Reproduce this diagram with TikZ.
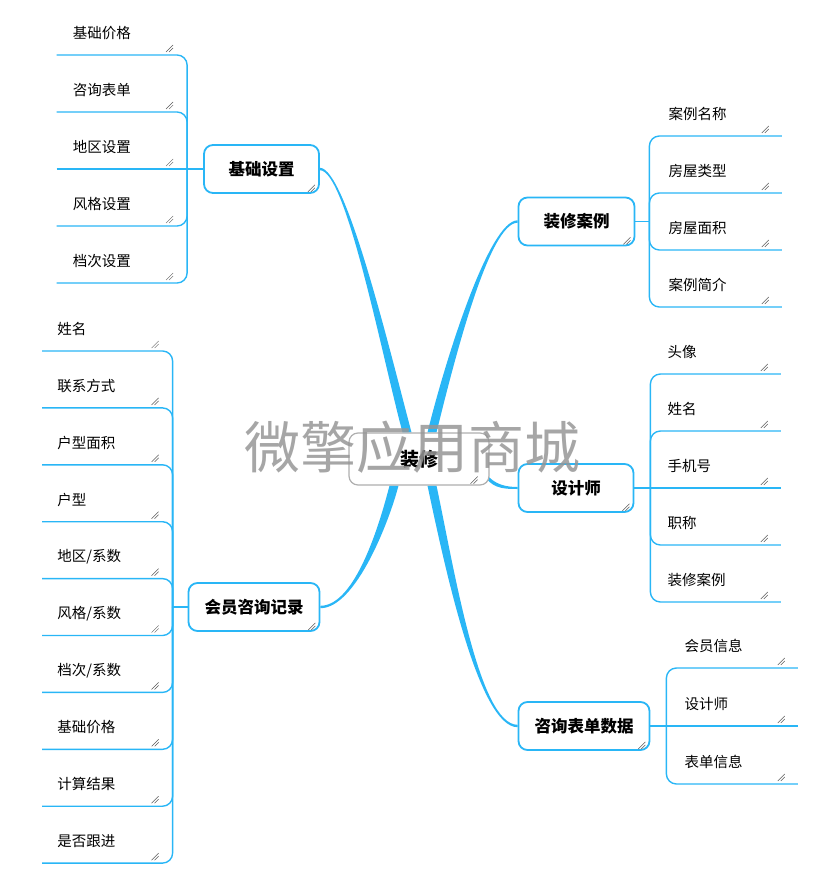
\documentclass[tikz,border=0pt]{standalone}
\usepackage{fontspec}
\newfontfamily\cjk{Noto Sans CJK SC}
\usetikzlibrary{calc,backgrounds}
\definecolor{mblue}{RGB}{41,182,246}
\definecolor{rootgray}{RGB}{175,175,175}
\definecolor{wmgray}{RGB}{150,150,150}
\newcommand\taperfill[6]{%
  \fill[mblue] ($(#1)+(#5)$) .. controls ($(#2)+(#5)$) and ($(#3)+(#6)$) .. ($(#4)+(#6)$)
     -- ($(#4)-(#6)$) .. controls ($(#3)-(#6)$) and ($(#2)-(#5)$) .. ($(#1)-(#5)$) -- cycle;}
\tikzset{
  rootbox/.style={draw=rootgray, line width=1.2pt, fill=white, rounded corners=9pt,
    minimum width=140pt, minimum height=52pt, font=\cjk\bfseries\fontsize{19}{22}\selectfont},
  branchbox/.style={draw=mblue, line width=1.8pt, fill=white, rounded corners=9pt,
    minimum height=48pt, font=\cjk\bfseries\fontsize{16.5}{20}\selectfont},
  leaf/.style={inner ysep=0pt, minimum height=44pt, align=left,
    font=\cjk\fontsize{14.5}{17}\selectfont},
  leafL/.style={leaf, anchor=south east, inner xsep=#1},
  leafR/.style={leaf, anchor=south west, inner xsep=#1},
  lk/.style={draw=mblue, line width=1.4pt, rounded corners=10pt},
  gripc/.style={draw=black!65, line width=0.5pt},
  gripmark/.pic={\draw[gripc] (-4,3) -- (3,-4); \draw[gripc] (-1,3) -- (3,-1);}
}
\begin{document}
\begin{tikzpicture}[x=1pt,y=-1pt]
\useasboundingbox (0,0) rectangle (824,894);

% main nodes
\node[rootbox] (root) at (419,459) {\raisebox{-2pt}{装修}};
\node[branchbox, minimum width=115pt] (jc) at (261.5,169) {\raisebox{-2pt}{基础设置}};
\node[branchbox, minimum width=131pt] (hy) at (254,607) {\raisebox{-2pt}{会员咨询记录}};
\node[branchbox, minimum width=116pt] (zx) at (576.5,221.5) {\raisebox{-2pt}{装修案例}};
\node[branchbox, minimum width=115pt] (sjs) at (576,488) {\raisebox{-2pt}{设计师}};
\node[branchbox, minimum width=131pt] (zxb) at (584,726) {\raisebox{-2pt}{咨询表单数据}};

% junctions
\coordinate (jj) at ($(jc.west)+(-16,0)$);
\coordinate (hj) at ($(hy.west)+(-15,0)$);
\coordinate (zj) at ($(zx.east)+(14,0)$);
\coordinate (sj) at ($(sjs.east)+(16,0)$);
\coordinate (xj) at ($(zxb.east)+(16,0)$);

% 基础设置 leaves
\foreach \t [count=\i] in {基础价格,咨询表单,地区设置,风格设置,档次设置}{
  \node[leafL=16pt, text width=98pt] (a\i) at ($(jj)+(0,{55+57*(\i-1)-169})$) {\t};
  \pic at ($(a\i.south east)+(-17,-6)$) {gripmark};
}
% 会员咨询记录 leaves
\foreach \t [count=\i] in {姓名,联系方式,户型面积,户型,地区/系数,风格/系数,档次/系数,基础价格,计算结果,是否跟进}{
  \node[leafL=15pt, text width=100pt] (h\i) at ($(hj)+(0,{351+56.9*(\i-1)-607})$) {\t};
  \pic at ($(h\i.south east)+(-17,-6)$) {gripmark};
}
% 装修案例 leaves
\foreach \t [count=\i] in {案例名称,房屋类型,房屋面积,案例简介}{
  \node[leafR=19pt, text width=94pt] (b\i) at ($(zj)+(0,{136+57*(\i-1)-221.5})$) {\t};
  \pic at ($(b\i.south east)+(-16,-6)$) {gripmark};
}
% 设计师 leaves
\foreach \t [count=\i] in {头像,姓名,手机号,职称,装修案例}{
  \node[leafR=17pt, text width=96pt] (c\i) at ($(sj)+(0,{374+57*(\i-1)-488})$) {\t};
  \pic at ($(c\i.south east)+(-16,-6)$) {gripmark};
}
% 咨询表单数据 leaves
\foreach \t [count=\i] in {会员信息,设计师,表单信息}{
  \node[leafR=18pt, text width=95pt] (d\i) at ($(xj)+(0,{668+58*(\i-1)-726})$) {\t};
  \pic at ($(d\i.south east)+(-16,-6)$) {gripmark};
}

% grips on boxes
\pic at ($(root.south east)+(-15,-5)$) {gripmark};
\foreach \n in {jc,hy,zx,sjs,zxb}{\pic at ($(\n.south east)+(-8,-5)$) {gripmark};}

\begin{scope}[on background layer]
  % tapered main branches
  \coordinate (s1) at ($(root.north)+(-12,0)$);
  \coordinate (s2) at ($(root.north)+(13,0)$);
  \coordinate (s3) at ($(root.south)+(-25,0)$);
  \coordinate (s4) at ($(root.south)+(13,0)$);
  \coordinate (s5) at ($(root.south east)+(-3,-9)$);
  \taperfill{s1}{$(s1)+(-22,-83)$}{$(jc.east)+(26,0)$}{jc.east}{-4.5,0}{0,1.2}
  \taperfill{s2}{$(s2)+(18,-73)$}{$(zx.west)+(-28.5,0)$}{zx.west}{-4.5,0}{0,-1.2}
  \taperfill{s3}{$(s3)+(-9,35)$}{$(hy.east)+(35.5,0)$}{hy.east}{4.5,0}{0,1.2}
  \taperfill{s4}{$(s4)+(18,85)$}{$(zxb.west)+(-38.5,0)$}{zxb.west}{4.5,0}{0,-1.2}
  \taperfill{s5}{$(s5)+(8,10)$}{$(sjs.west)+(-12,0)$}{sjs.west}{0,2.2}{0,1}

  % parent to junction links
  \draw[lk] (jc.west) -- (jj);
  \draw[lk] (hy.west) -- (hj);
  \draw[lk] (zx.east) -- (zj);
  \draw[lk] (sjs.east) -- (sj);
  \draw[lk] (zxb.east) -- (xj);

  % leaf underlines and connectors
  \foreach \i in {1,2,4,5}{\draw[lk] (a\i.south west) -- (a\i.south east) -- (jj);}
  \draw[lk] (a3.south west) -- (a3.south east);
  \foreach \i in {1,...,10}{\draw[lk] (h\i.south west) -- (h\i.south east) -- (hj);}
  \foreach \i in {1,...,4}{\draw[lk] (zj) -- (b\i.south west) -- (b\i.south east);}
  \foreach \i in {1,2,4,5}{\draw[lk] (sj) -- (c\i.south west) -- (c\i.south east);}
  \draw[lk] (c3.south west) -- (c3.south east);
  \foreach \i in {1,3}{\draw[lk] (xj) -- (d\i.south west) -- (d\i.south east);}
  \draw[lk] (d2.south west) -- (d2.south east);
\end{scope}

% watermark
\node[text=wmgray, opacity=0.85, font=\cjk\fontsize{56}{60}\selectfont, inner sep=0pt] (wm) at (412,447) {微擎应用商城};
\end{tikzpicture}
\end{document}
